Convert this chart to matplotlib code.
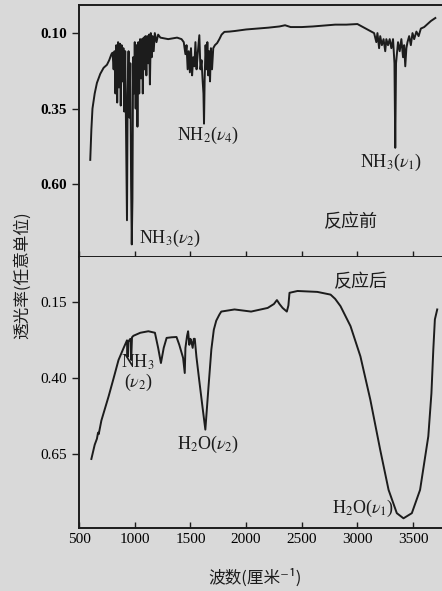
import matplotlib
matplotlib.use("Agg")
import matplotlib.pyplot as plt

plt.rcParams["mathtext.fontset"] = "stix"
plt.rcParams["font.family"] = ["Liberation Serif", "Noto Sans CJK SC", "DejaVu Sans"]

# spectrum before reaction (wavenumber, transmittance)
before_wn = [600, 610, 620, 640, 660, 690, 720, 750, 770, 790, 800, 810, 818, 826, 834, 842,
             850, 858, 866, 874, 882, 890, 898, 906, 914, 922, 930, 936, 944, 952, 960, 967,
             973, 979, 985, 993, 1000, 1008, 1016, 1024, 1032, 1040, 1048, 1056, 1064, 1072,
             1080, 1088, 1096, 1104, 1112, 1120, 1128, 1136, 1144, 1152, 1160, 1170, 1180,
             1195, 1210, 1230, 1300, 1380, 1420, 1440, 1455, 1465, 1475, 1485, 1495, 1505,
             1515, 1525, 1535, 1545, 1555, 1565, 1580, 1590, 1600, 1610, 1617, 1622, 1628,
             1636, 1645, 1652, 1660, 1668, 1676, 1684, 1694, 1705, 1720, 1740, 1760, 1780,
             1805, 1850, 1900, 2000, 2100, 2200, 2300, 2350, 2400, 2500, 2600, 2700, 2800,
             2900, 3000, 3050, 3100, 3150, 3170, 3180, 3195, 3205, 3220, 3235, 3250, 3260,
             3275, 3290, 3305, 3320, 3333, 3340, 3347, 3365, 3380, 3395, 3410, 3420, 3430,
             3440, 3450, 3465, 3480, 3495, 3510, 3530, 3550, 3570, 3600, 3630, 3660, 3700]
before_val = [0.52, 0.42, 0.35, 0.30, 0.265, 0.235, 0.215, 0.205, 0.19, 0.17, 0.165, 0.22,
              0.16, 0.30, 0.14, 0.33, 0.13, 0.28, 0.135, 0.34, 0.14, 0.26, 0.15, 0.36, 0.16,
              0.45, 0.72, 0.30, 0.16, 0.38, 0.20, 0.60, 0.80, 0.65, 0.18, 0.30, 0.13, 0.35,
              0.14, 0.41, 0.13, 0.30, 0.12, 0.25, 0.12, 0.30, 0.115, 0.22, 0.11, 0.24, 0.11,
              0.20, 0.105, 0.27, 0.10, 0.18, 0.11, 0.16, 0.10, 0.13, 0.105, 0.115, 0.12,
              0.115, 0.12, 0.13, 0.17, 0.14, 0.22, 0.16, 0.23, 0.15, 0.24, 0.18, 0.21, 0.13,
              0.22, 0.17, 0.107, 0.22, 0.19, 0.26, 0.30, 0.40, 0.25, 0.14, 0.22, 0.13, 0.24,
              0.16, 0.26, 0.15, 0.22, 0.15, 0.14, 0.133, 0.12, 0.105, 0.096, 0.095, 0.093,
              0.088, 0.085, 0.082, 0.078, 0.074, 0.08, 0.08, 0.078, 0.075, 0.072, 0.072, 0.07,
              0.08, 0.09, 0.10, 0.13, 0.10, 0.15, 0.11, 0.14, 0.12, 0.16, 0.12, 0.14, 0.12,
              0.15, 0.12, 0.20, 0.48, 0.20, 0.13, 0.16, 0.12, 0.18, 0.14, 0.21, 0.15, 0.13,
              0.11, 0.14, 0.10, 0.12, 0.095, 0.11, 0.085, 0.08, 0.07, 0.06, 0.05]

# spectrum after reaction
after_wn = [610, 640, 660, 670, 676, 700, 765, 810, 854, 900, 930, 935, 940, 960, 968, 975,
            988, 1050, 1122, 1181, 1210, 1235, 1260, 1286, 1330, 1375, 1400, 1434, 1449,
            1455, 1470, 1479, 1490, 1500, 1509, 1520, 1530, 1539, 1554, 1580, 1610, 1634,
            1660, 1688, 1710, 1732, 1760, 1777, 1896, 2045, 2194, 2250, 2277, 2300, 2328,
            2366, 2380, 2390, 2462, 2640, 2759, 2800, 2848, 2938, 3027, 3116, 3205, 3280,
            3354, 3414, 3489, 3563, 3637, 3665, 3682, 3696, 3717]
after_val = [0.667, 0.62, 0.60, 0.58, 0.585, 0.54, 0.46, 0.40, 0.34, 0.30, 0.275, 0.33, 0.28,
             0.27, 0.34, 0.265, 0.26, 0.25, 0.245, 0.25, 0.30, 0.35, 0.30, 0.267, 0.265,
             0.264, 0.29, 0.333, 0.383, 0.30, 0.26, 0.245, 0.29, 0.27, 0.28, 0.30, 0.27, 0.27,
             0.33, 0.41, 0.50, 0.57, 0.44, 0.305, 0.24, 0.21, 0.19, 0.18, 0.173, 0.18, 0.168,
             0.155, 0.142, 0.155, 0.168, 0.18, 0.16, 0.118, 0.112, 0.115, 0.124, 0.138,
             0.162, 0.228, 0.328, 0.471, 0.637, 0.769, 0.846, 0.863, 0.846, 0.769, 0.592,
             0.45, 0.305, 0.206, 0.173]

x_ticks = [500, 1000, 1500, 2000, 2500, 3000, 3500]
top_yticks = [0.10, 0.35, 0.60]
bot_yticks = [0.15, 0.40, 0.65]

paper = "#d9d9d9"
ink = "#1c1c1c"

fig = plt.figure(figsize=(4.42, 5.91), dpi=100, facecolor=paper)
ax1 = fig.add_axes([0.179, 0.565, 0.821, 0.4265], facecolor=paper)
ax2 = fig.add_axes([0.179, 0.1066, 0.821, 0.4584], facecolor=paper)

ax1.plot(before_wn, before_val, color=ink, lw=1.4)
ax2.plot(after_wn, after_val, color=ink, lw=1.4)

for ax in (ax1, ax2):
    ax.set_xlim(518, 3760)
    ax.set_xticks(x_ticks)
    ax.spines["right"].set_visible(False)
    for s in ("left", "bottom", "top"):
        ax.spines[s].set_color(ink)
        ax.spines[s].set_linewidth(1.4)
    ax.tick_params(axis="x", direction="in", length=4, width=1, color=ink, labelsize=11)
    ax.tick_params(axis="y", direction="out", length=5, width=1, color=ink, labelsize=11)

ax1.set_ylim(0.842, 0.007)
ax1.set_yticks(top_yticks)
ax1.set_yticklabels(["%.2f" % v for v in top_yticks], fontweight="bold")
ax1.tick_params(axis="x", labelbottom=False)

ax2.set_ylim(0.895, 0.0)
ax2.set_yticks(bot_yticks)
ax2.set_yticklabels(["%.2f" % v for v in bot_yticks])
ax2.spines["top"].set_visible(False)

lab = dict(fontsize=13, color=ink, ha="center", va="center")
ax1.text(1661, 0.438, r"NH$_2$($\nu_4$)", **lab)
ax1.text(3304, 0.527, r"NH$_3$($\nu_1$)", **lab)
ax1.text(1320, 0.78, r"NH$_3$($\nu_2$)", **lab)
ax1.text(2938, 0.726, "反应前", family=["Noto Sans CJK SC"], **lab)

ax2.text(3036, 0.084, "反应后", family=["Noto Sans CJK SC"], **lab)
ax2.text(1030, 0.383, "NH$_3$\n($\\nu_2$)", linespacing=1.0, multialignment="center", **lab)
ax2.text(1661, 0.62, r"H$_2$O($\nu_2$)", **lab)
ax2.text(3054, 0.83, r"H$_2$O($\nu_1$)", **lab)

fig.text(22 / 442, 1 - 275 / 591, "透光率(任意单位)", rotation=90, ha="center", va="center",
         fontsize=12, color=ink, family=["Noto Sans CJK SC", "DejaVu Sans"])
fig.text(255 / 442, 1 - 578 / 591, "波数(厘米⁻¹)", ha="center", va="center",
         fontsize=12, color=ink, family=["Noto Sans CJK SC", "DejaVu Sans"])

fig.savefig("out.png", dpi=100, facecolor=paper)
